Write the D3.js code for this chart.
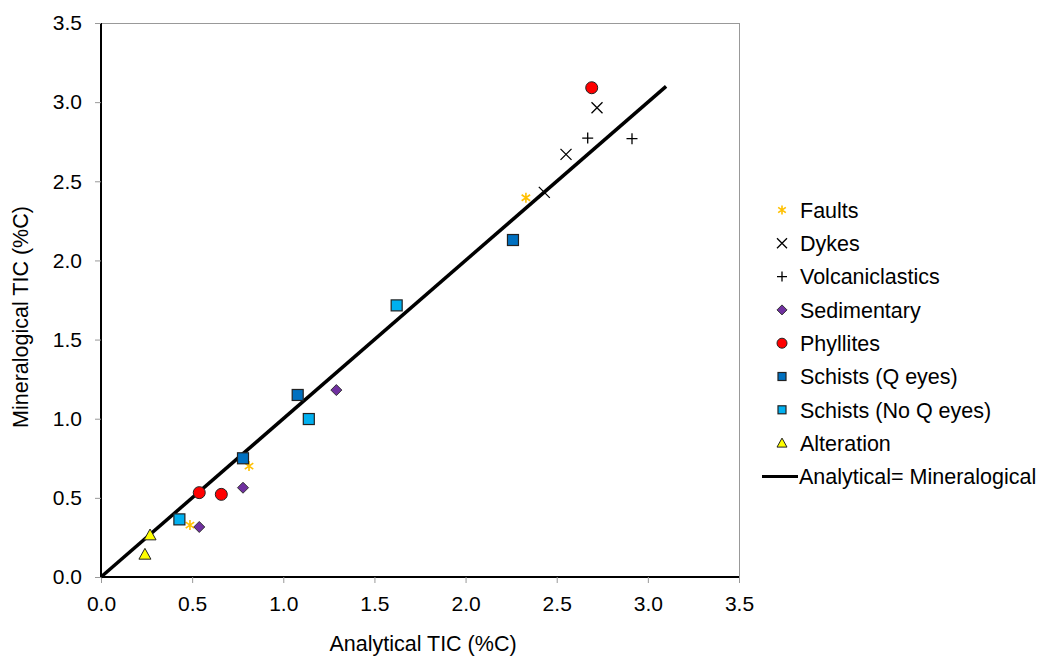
<!DOCTYPE html>
<html><head><meta charset="utf-8">
<script src="https://cdn.jsdelivr.net/npm/d3@7"></script>
<style>body{margin:0;background:#fff}svg{display:block;font-family:"Liberation Sans",Arial,sans-serif}</style>
</head><body><svg id="c" width="1042" height="656"></svg>
<script>
const ticks = [0,0.5,1.0,1.5,2.0,2.5,3.0,3.5];
const faults = [[0.488,0.328],[0.812,0.701],[2.331,2.396]];
const dykes = [[2.432,2.43],[2.551,2.67],[2.721,2.965]];
const volcaniclastics = [[2.67,2.773],[2.913,2.769]];
const sedimentary = [[0.539,0.316],[0.779,0.564],[1.291,1.181]];
const phyllites = [[0.539,0.533],[0.66,0.522],[2.692,3.091]];
const schistsQ = [[0.779,0.75],[1.079,1.15],[2.26,2.129]];
const schistsNoQ = [[0.43,0.364],[1.14,0.998],[1.622,1.716]];
const alteration = [[0.241,0.143],[0.269,0.265]];
const lineXY = [[0,0],[3.1,3.1]];

const svg = d3.select("#c");
const x = d3.scaleLinear().domain([0,3.5]).range([101,739]);
const y = d3.scaleLinear().domain([0,3.5]).range([577,23]);
const FS = 21;

// frame
svg.append("line").attr("x1",101).attr("x2",739).attr("y1",23.5).attr("y2",23.5).attr("stroke","#999");
svg.append("line").attr("x1",739.5).attr("x2",739.5).attr("y1",23).attr("y2",577).attr("stroke","#999");

const xa = svg.append("g").attr("transform","translate(0,577)")
  .call(d3.axisBottom(x).tickValues(ticks).tickFormat(d3.format(".1f")).tickSize(6));
const ya = svg.append("g").attr("transform","translate(101,0)")
  .call(d3.axisLeft(y).tickValues(ticks).tickFormat(d3.format(".1f")).tickSize(6).tickPadding(13));
[xa,ya].forEach(a=>{
  a.select(".domain").attr("stroke","#000").attr("stroke-width",2);
  a.selectAll(".tick line").attr("stroke","#999");
  a.selectAll("text").attr("font-size",FS).attr("fill","#000").attr("font-family","Liberation Sans, Arial, sans-serif");
});
xa.selectAll("text").attr("y",34).attr("dy",0);
ya.select(".domain").attr("d","M0,23V577");
xa.select(".domain").attr("d","M101,0H739");

svg.append("text").attr("x",423).attr("y",651).attr("text-anchor","middle").attr("font-size",21.5).text("Analytical TIC (%C)");
svg.append("text").attr("transform","translate(28,317) rotate(-90)").attr("text-anchor","middle").attr("font-size",21.5).text("Mineralogical TIC (%C)");

// line
svg.append("path").attr("d",d3.line().x(d=>x(d[0])).y(d=>y(d[1]))(lineXY)).attr("stroke","#000").attr("stroke-width",3.5).attr("fill","none");

function star(g,s,col){
  const r=s/2;
  g.append("path").attr("d",`M0,${-r}V${r}M${-r*0.85},${-r*0.6}L${r*0.85},${r*0.6}M${r*0.85},${-r*0.6}L${-r*0.85},${r*0.6}`).attr("stroke",col).attr("stroke-width",1.6).attr("fill","none");
}
function cross(g,s){const r=s/2;g.append("path").attr("d",`M${-r},${-r}L${r},${r}M${r},${-r}L${-r},${r}`).attr("stroke","#000").attr("stroke-width",1.3);}
function plus(g,s){const r=s/2;g.append("path").attr("d",`M${-r},0H${r}M0,${-r}V${r}`).attr("stroke","#000").attr("stroke-width",1.3);}
function diamond(g,s){const r=s/2;g.append("path").attr("d",`M0,${-r}L${r},0L0,${r}L${-r},0Z`).attr("fill","#7030A0").attr("stroke","#333").attr("stroke-width",1);}
function circle(g,s){g.append("circle").attr("r",s/2).attr("fill","#FF0000").attr("stroke","#222").attr("stroke-width",1);}
function square(col){return (g,s)=>{g.append("rect").attr("x",-s/2).attr("y",-s/2).attr("width",s).attr("height",s).attr("fill",col).attr("stroke","#222").attr("stroke-width",1.2);};}
function tri(g,s){const r=s/2;g.append("path").attr("d",`M0,${-r}L${r},${r*0.8}L${-r},${r*0.8}Z`).attr("fill","#FFFF00").attr("stroke","#222").attr("stroke-width",1);}

const series = [
  {name:"Faults",data:faults,fn:(g,s)=>star(g,s,"#FFC000"),size:10,ls:9},
  {name:"Dykes",data:dykes,fn:cross,size:11,ls:10},
  {name:"Volcaniclastics",data:volcaniclastics,fn:plus,size:11,ls:10},
  {name:"Sedimentary",data:sedimentary,fn:diamond,size:11,ls:10},
  {name:"Phyllites",data:phyllites,fn:circle,size:12,ls:10},
  {name:"Schists (Q eyes)",data:schistsQ,fn:square("#0070C0"),size:11,ls:8},
  {name:"Schists (No Q eyes)",data:schistsNoQ,fn:square("#00B0F0"),size:11,ls:8},
  {name:"Alteration",data:alteration,fn:tri,size:12,ls:10}
];

series.forEach(s=>{
  s.data.forEach(d=>{
    const g=svg.append("g").attr("transform",`translate(${x(d[0])},${y(d[1])})`);
    s.fn(g,s.size);
  });
});

// legend
const lg = svg.append("g");
series.forEach((s,i)=>{
  const yy=210+i*33.3;
  const g=lg.append("g").attr("transform",`translate(782,${yy})`);
  s.fn(g,s.ls);
  lg.append("text").attr("x",800).attr("y",yy).attr("dy","0.36em").attr("font-size",21.5).text(s.name);
});
const ly=210+8*33.3;
lg.append("line").attr("x1",762).attr("x2",798).attr("y1",ly).attr("y2",ly).attr("stroke","#000").attr("stroke-width",3);
lg.append("text").attr("x",799).attr("y",ly).attr("dy","0.36em").attr("font-size",21.5).text("Analytical= Mineralogical");
</script></body></html>
